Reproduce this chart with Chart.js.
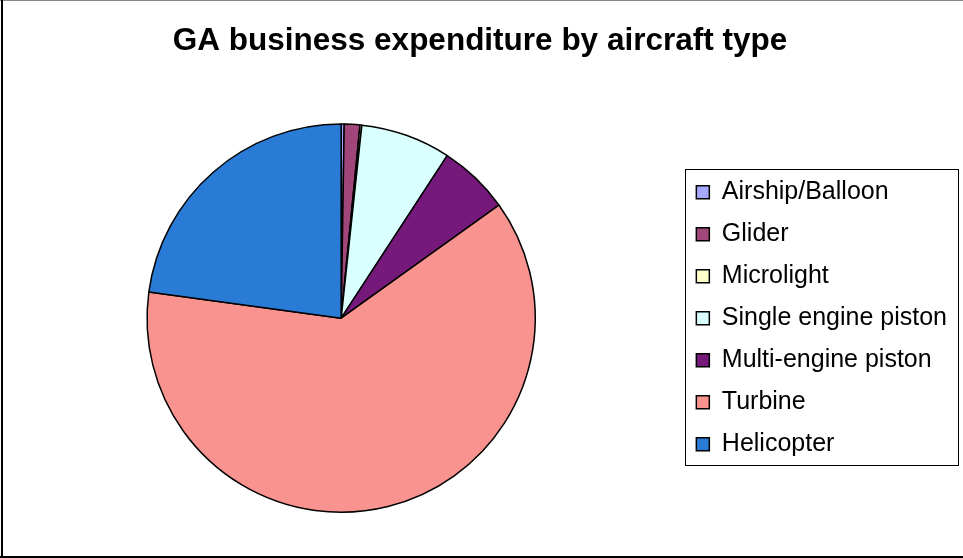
<!DOCTYPE html>
<html>
<head>
<meta charset="utf-8">
<script src="https://cdn.jsdelivr.net/npm/chart.js@4"></script>
<style>
  html, body { margin: 0; padding: 0; background: #fff; }
  #wrap { width: 963px; height: 558px; }
</style>
</head>
<body>
<div id="wrap"><canvas id="grafico" width="963" height="558"></canvas></div>
<script>
const categorias = ['Airship/Balloon', 'Glider', 'Microlight', 'Single engine piston', 'Multi-engine piston', 'Turbine', 'Helicopter'];
const gastos = [0.25, 1.3, 0.15, 7.5, 5.9, 62.05, 22.85]; // % share
const cores = ['#a6a8ff', '#a0467a', '#ffffcc', '#d9ffff', '#751a7a', '#f9938f', '#2a7bd6'];
const titulo = 'GA business expenditure by aircraft type';

// white background + the thin outer frame of the original
const fundo = {
    id: 'fundo',
    beforeDraw: (chart) => {
        const c = chart.ctx;
        c.save();
        c.fillStyle = '#fff';
        c.fillRect(0, 0, chart.width, chart.height);
        c.fillStyle = '#888';
        c.fillRect(0, 0, chart.width, 1);
        c.fillStyle = '#000';
        c.fillRect(1, 0, 2, chart.height);
        c.fillRect(0, chart.height - 2, chart.width, 2);
        c.restore();
    }
};

// legend centred on the pie, not on the whole right column (and nudged a bit left)
const legendaNoMeio = {
    id: 'legendaNoMeio',
    afterLayout: (chart) => {
        const lg = chart.legend, ca = chart.chartArea;
        if (!lg) return;
        lg.top = ca.top;
        lg.bottom = ca.bottom;
        lg.height = ca.bottom - ca.top;
        lg.left -= 3;
        lg.right -= 3;
    }
};

// box round the legend
const caixaLegenda = {
    id: 'caixaLegenda',
    afterDraw: (chart) => {
        const lg = chart.legend;
        if (!lg || !lg.legendHitBoxes || !lg.legendHitBoxes.length) return;
        const hb = lg.legendHitBoxes;
        const first = hb[0], last = hb[hb.length - 1];
        const x0 = first.left - 11;
        const y0 = first.top - 11;
        const x1 = lg.right + 1;
        const y1 = last.top + last.height + 8;
        const c = chart.ctx;
        c.save();
        c.strokeStyle = '#000';
        c.lineWidth = 1;
        c.strokeRect(Math.round(x0) + 0.5, Math.round(y0) + 0.5, Math.round(x1 - x0), Math.round(y1 - y0));
        c.restore();
    }
};

const ctx = document.getElementById('grafico').getContext('2d');

const grafico = new Chart(ctx, {
    type: 'pie',
    data: {
        labels: categorias,
        datasets: [{
            data: gastos,
            backgroundColor: cores,
            borderColor: '#000',
            borderWidth: 1.5
        }]
    },
    options: {
        responsive: false,
        animation: false,
        layout: {
            padding: { left: 0, right: 3, top: 0, bottom: 45 }
        },
        plugins: {
            title: {
                display: true,
                text: titulo,
                color: '#000',
                font: { family: 'Liberation Sans, Arial, sans-serif', size: 31.5, weight: 'bold' },
                padding: { top: 22, bottom: 63.5 }
            },
            legend: {
                display: true,
                position: 'right',
                labels: {
                    color: '#000',
                    font: { family: 'Liberation Sans, Arial, sans-serif', size: 25 },
                    boxWidth: 13,
                    boxHeight: 13,
                    padding: 17
                }
            },
            tooltip: { enabled: false }
        }
    },
    plugins: [fundo, legendaNoMeio, caixaLegenda]
});
</script>
</body>
</html>
